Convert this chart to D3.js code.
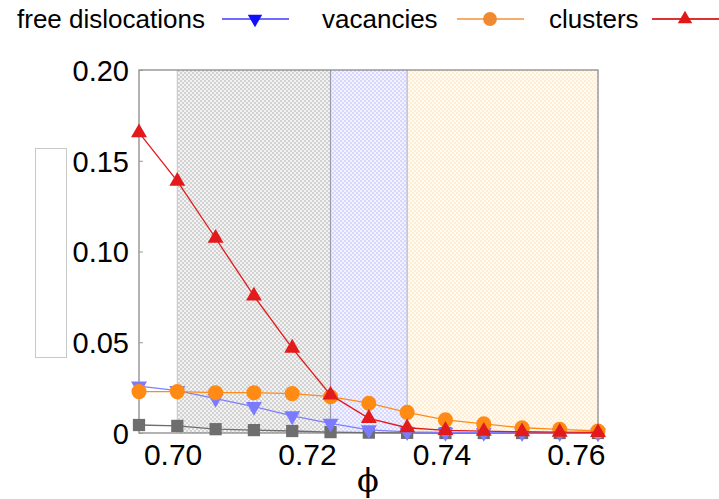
<!DOCTYPE html>
<html>
<head>
<meta charset="utf-8">
<script src="https://cdn.jsdelivr.net/npm/d3@7"></script>
<style>
  body { margin: 0; background: #fff; }
  text { font-family: "Liberation Sans", Arial, sans-serif; }
</style>
</head>
<body>
<script>
// phi values and the four series
var phi = [0.6950, 0.7007, 0.7064, 0.7121, 0.7178, 0.7235, 0.7292, 0.7349, 0.7406, 0.7463, 0.7520, 0.7576, 0.7633];
var freeDisl = [0.0258, 0.0233, 0.0190, 0.0145, 0.0094, 0.0053, 0.0017, 0.0006, 0.0003, 0.0002, 0.0001, 0.0001, 0.0000];
var vacancies = [0.0228, 0.0228, 0.0222, 0.0222, 0.0217, 0.0200, 0.0164, 0.0114, 0.0072, 0.0050, 0.0029, 0.0020, 0.0011];
var clusters = [0.1655, 0.1388, 0.1073, 0.0755, 0.0468, 0.0210, 0.0081, 0.0029, 0.0015, 0.0010, 0.0007, 0.0005, 0.0003];
var other = [0.0044, 0.0039, 0.0021, 0.0016, 0.0011, 0.0005, 0.0002, 0.0001, 0.0000, 0.0000, 0.0000, 0.0000, 0.0000];

var xTicks = [0.70, 0.72, 0.74, 0.76];
var yTicks = [0, 0.05, 0.10, 0.15, 0.20];
var legendNames = ["free dislocations", "vacancies", "clusters"];

// shaded phase regions
var regionStart = [0.7007, 0.7235, 0.7349];
var regionEnd = [0.7235, 0.7349, 0.7633];

var width = 719, height = 499;
var pLeft = 139, pRight = 598, pTop = 70, pBottom = 433;

var svg = d3.select("body").append("svg")
  .attr("width", width)
  .attr("height", height);

var x = d3.scaleLinear().domain([0.6950, 0.7633]).range([pLeft, pRight]);
var y = d3.scaleLinear().domain([0, 0.20]).range([pBottom, pTop]);

// hatch patterns (checker)
var defs = svg.append("defs");
var pats = [
  { id: "pg", bg: "#f3f3f3", fg: "#d2d2d2" },
  { id: "pb", bg: "#f3f3ff", fg: "#d8d8ff" },
  { id: "po", bg: "#fffbf3", fg: "#ffeed4" }
];
pats.forEach(function(p) {
  var pt = defs.append("pattern").attr("id", p.id)
    .attr("patternUnits", "userSpaceOnUse")
    .attr("width", 4).attr("height", 4);
  pt.append("rect").attr("width", 4).attr("height", 4).attr("fill", p.bg);
  pt.append("rect").attr("x", 0).attr("y", 0).attr("width", 2).attr("height", 2).attr("fill", p.fg);
  pt.append("rect").attr("x", 2).attr("y", 2).attr("width", 2).attr("height", 2).attr("fill", p.fg);
});

var regionFill = ["url(#pg)", "url(#pb)", "url(#po)"];
var regionEdge = ["#cccccc", "#9a9ab0", "#b8b8c8"];
regionStart.forEach(function(s, i) {
  svg.append("rect")
    .attr("x", x(s)).attr("y", pTop)
    .attr("width", x(regionEnd[i]) - x(s))
    .attr("height", pBottom - pTop)
    .attr("fill", regionFill[i]);
  svg.append("line")
    .attr("x1", x(s)).attr("x2", x(s))
    .attr("y1", pTop).attr("y2", pBottom)
    .attr("stroke", regionEdge[i])
    .attr("stroke-width", 1.2);
});

// frame
svg.append("rect")
  .attr("x", pLeft).attr("y", pTop)
  .attr("width", pRight - pLeft).attr("height", pBottom - pTop)
  .attr("fill", "none").attr("stroke", "#8a8a8a").attr("stroke-width", 1.3);

// left empty box
svg.append("rect")
  .attr("x", 35.5).attr("y", 148.5).attr("width", 31).attr("height", 209)
  .attr("fill", "none").attr("stroke", "#c8c8c8");

// axes
var yAxis = d3.axisLeft(y).tickValues(yTicks)
  .tickFormat(function(d) { return d === 0 ? "0" : d3.format(".2f")(d); })
  .tickSizeInner(-4).tickSizeOuter(0).tickPadding(10);
var gy = svg.append("g").attr("transform", "translate(" + pLeft + ",0)").call(yAxis);
gy.select(".domain").remove();
gy.selectAll("line").attr("stroke", "#999");
gy.selectAll("text").attr("font-size", 29).attr("fill", "#000")
  .attr("font-family", "Liberation Sans, Arial, sans-serif").attr("dy", "0.36em");

var xAxis = d3.axisBottom(x).tickValues(xTicks).tickFormat(d3.format(".2f")).tickSize(0);
var gx = svg.append("g").attr("transform", "translate(0," + pBottom + ")").call(xAxis);
gx.select(".domain").remove();
gx.selectAll("text").attr("font-size", 30).attr("fill", "#000")
  .attr("font-family", "Liberation Sans, Arial, sans-serif")
  .attr("y", 32).attr("dy", 0);

svg.append("text")
  .attr("x", 368).attr("y", 491)
  .attr("text-anchor", "middle")
  .attr("font-size", 32)
  .style("font-family", "DejaVu Serif, Liberation Serif, serif")
  .text("\u03d5");

// series
var series = [
  { vals: other, line: "#6e6e6e", mark: "#6e6e6e", sym: d3.symbolSquare, size: 150, rot: 0 },
  { vals: freeDisl, line: "#7f7fff", mark: "#7b7bff", sym: d3.symbolTriangle, size: 110, rot: 180 },
  { vals: vacancies, line: "#ff8c1a", mark: "#ff8a14", sym: d3.symbolCircle, size: 180, rot: 0 },
  { vals: clusters, line: "#e31a1c", mark: "#e31a1c", sym: d3.symbolTriangle, size: 110, rot: 0 }
];

var line = d3.line()
  .x(function(d, i) { return x(phi[i]); })
  .y(function(d) { return y(d); });

series.forEach(function(s) {
  var g = svg.append("g");
  g.append("path").datum(s.vals)
    .attr("d", line)
    .attr("fill", "none")
    .attr("stroke", s.line)
    .attr("stroke-width", 1.3);
  g.selectAll("path.m").data(s.vals).enter()
    .append("path").attr("class", "m")
    .attr("d", d3.symbol().type(s.sym).size(s.size))
    .attr("transform", function(d, i) {
      return "translate(" + x(phi[i]) + "," + y(d) + ") rotate(" + s.rot + ")";
    })
    .attr("fill", s.mark);
});

// legend
var legTextX = [17, 322, 549];
var legLineX = [222, 457, 652];
var legLine = ["#6b6bff", "#f5ad6e", "#e03030"];
var legMark = ["#1010ff", "#f08a30", "#e01818"];
var legSym = [d3.symbolTriangle, d3.symbolCircle, d3.symbolTriangle];
var legRot = [180, 0, 0];
var legSize = [90, 150, 90];

legendNames.forEach(function(n, i) {
  svg.append("text")
    .attr("x", legTextX[i]).attr("y", 28)
    .attr("font-size", 26)
    .text(n);
  svg.append("line")
    .attr("x1", legLineX[i]).attr("x2", legLineX[i] + 67)
    .attr("y1", 19).attr("y2", 19)
    .attr("stroke", legLine[i]).attr("stroke-width", 2);
  svg.append("path")
    .attr("d", d3.symbol().type(legSym[i]).size(legSize[i]))
    .attr("transform", "translate(" + (legLineX[i] + 33) + ",19) rotate(" + legRot[i] + ")")
    .attr("fill", legMark[i]);
});
</script>
</body>
</html>
